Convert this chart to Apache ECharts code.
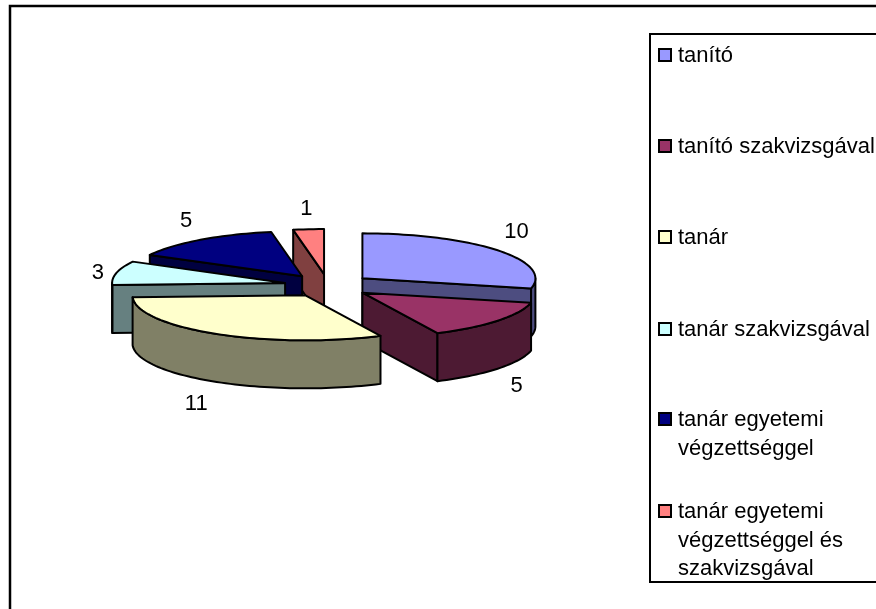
<!DOCTYPE html>
<html>
<head>
<meta charset="utf-8">
<title>chart</title>
<style>
    html, body { margin: 0; padding: 0; background: #fff; }
    #main { width: 876px; height: 609px; }
</style>
<script src="https://cdn.jsdelivr.net/npm/echarts@6/dist/echarts.min.js"></script>
</head>
<body>
<div id="main"></div>
<script>
// adatok
let categories = ['tanító', 'tanító szakvizsgával', 'tanár', 'tanár szakvizsgával', 'tanár egyetemi végzettséggel', 'tanár egyetemi végzettséggel és szakvizsgával'];
let values = [10, 5, 11, 3, 5, 1];
let topColors = ['#9999FF', '#993366', '#FFFFCC', '#CCFFFF', '#000080', '#FF8080'];
let wallColors = ['#4D4D80', '#4D1A33', '#808066', '#668080', '#000040', '#804040'];
// a jelmagyarazat sortorese
let legendLines = [['tanító'], ['tanító szakvizsgával'], ['tanár'], ['tanár szakvizsgával'], ['tanár egyetemi', 'végzettséggel'], ['tanár egyetemi', 'végzettséggel és', 'szakvizsgával']];

// hatulrol elore rajzolva
let drawOrder = [5, 4, 3, 0, 1, 2];

let pie = {cx: 328, cy: 285.5, rx: 173, ry: 45, depth: 48, explode: 44};
let fontName = '"Liberation Sans", Arial, sans-serif';
let total = values.reduce((a, b) => a + b, 0);

// szeletek szogei
let slices = [];
let acc = 0;
values.forEach((v, i) => {
    let start = acc / total * Math.PI * 2;
    acc += v;
    let end = acc / total * Math.PI * 2;
    let mid = (start + end) / 2;
    slices.push({
        start: start,
        end: end,
        mid: mid,
        ax: pie.cx + pie.explode * Math.sin(mid),
        ay: pie.cy - pie.explode * Math.cos(mid) * pie.ry / pie.rx
    });
});

let rimPoint = (s, a) => [s.ax + pie.rx * Math.sin(a), s.ay - pie.ry * Math.cos(a)];
let arcPoints = (s, from, to) => {
    let pts = [];
    let n = Math.max(2, Math.ceil((to - from) / 0.03));
    for (let k = 0; k <= n; k++) pts.push(rimPoint(s, from + (to - from) * k / n));
    return pts;
};
let down = p => [p[0], p[1] + pie.depth];

let lineStyle = fill => ({fill: fill, stroke: '#000', lineWidth: 2, lineJoin: 'round'});

let renderSlice = (params, api) => {
    let i = api.value(0);
    let s = slices[i];
    let apex = [s.ax, s.ay];
    let children = [];
    let poly = (points, fill) => children.push({type: 'polygon', shape: {points: points}, style: lineStyle(fill)});

    // kezdo vagas
    if (Math.sin(s.start) < -1e-6) {
        let p = rimPoint(s, s.start);
        poly([apex, p, down(p), down(apex)], wallColors[i]);
    }
    // zaro vagas
    if (Math.sin(s.end) > 1e-6) {
        let p = rimPoint(s, s.end);
        poly([apex, p, down(p), down(apex)], wallColors[i]);
    }
    // kulso fal, csak az eleje latszik
    let from = Math.max(s.start, Math.PI / 2);
    let to = Math.min(s.end, Math.PI * 3 / 2);
    if (to > from) {
        let rim = arcPoints(s, from, to);
        poly(rim.concat(rim.map(down).reverse()), wallColors[i]);
    }
    // teteje
    poly([apex].concat(arcPoints(s, s.start, s.end)), topColors[i]);

    // ertek felirat
    let c = -Math.cos(s.mid);
    let side = c < 0 && c > -0.5;
    let k = c > 0.7 ? 1.23 : (side ? 1.11 : 1.14);
    let dy = c > 0 ? 61 : (side ? 1 : -14);
    children.push({
        type: 'text',
        style: {
            x: s.ax + k * pie.rx * Math.sin(s.mid),
            y: s.ay + k * pie.ry * c + dy,
            text: String(values[i]),
            fill: '#000',
            font: '22px ' + fontName,
            align: 'center',
            verticalAlign: 'middle'
        }
    });
    return {type: 'group', children: children};
};

// jelmagyarazat
let legendX = 650, legendY = 34, legendB = 582, legendR = 880, lineH = 28.5;
let legendTops = [55, 146, 237, 329, 419, 511];
let legendGraphic = [{
    type: 'rect',
    shape: {x: legendX, y: legendY, width: legendR - legendX, height: legendB - legendY},
    style: {fill: '#fff', stroke: '#000', lineWidth: 2}
}];
legendLines.forEach((lines, i) => {
    legendGraphic.push({
        type: 'rect',
        shape: {x: 659, y: legendTops[i] - 6, width: 12, height: 12},
        style: {fill: topColors[i], stroke: '#000', lineWidth: 2}
    });
    lines.forEach((t, k) => {
        legendGraphic.push({
            type: 'text',
            style: {
                x: 678,
                y: legendTops[i] + k * lineH + 1,
                text: t,
                fill: '#000',
                font: '22px ' + fontName,
                verticalAlign: 'middle'
            }
        });
    });
});

// kulso keret
let frame = {
    type: 'polyline',
    shape: {points: [[10, 609], [10, 6], [876, 6]]},
    style: {stroke: '#000', lineWidth: 2.5, fill: null}
};

let chart = echarts.init(document.getElementById('main'));
chart.setOption({
    animation: false,
    backgroundColor: '#fff',
    graphic: {elements: [frame].concat(legendGraphic)},
    series: [{
        type: 'custom',
        coordinateSystem: 'none',
        silent: true,
        renderItem: renderSlice,
        encode: {value: 0},
        data: drawOrder.map(i => ({name: categories[i], value: [i, values[i]]}))
    }]
});
</script>
</body>
</html>
